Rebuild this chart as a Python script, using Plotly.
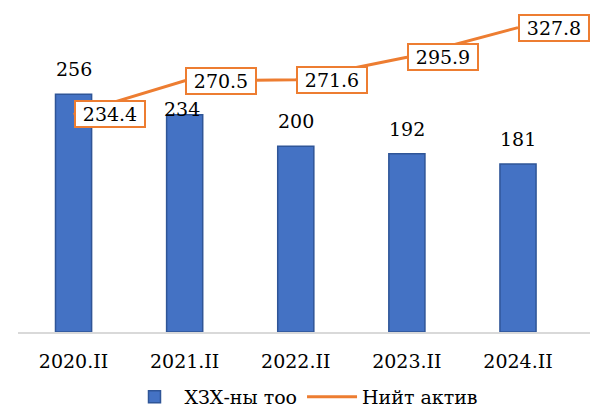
import plotly.graph_objects as go

categories = ["2020.II", "2021.II", "2022.II", "2023.II", "2024.II"]
bar_values = [256, 234, 200, 192, 181]
line_values = [234.4, 270.5, 271.6, 295.9, 327.8]
bar_name = "ХЗХ-ны тоо"
line_name = "Нийт актив"

FONT = "DejaVu Serif"
FS = 19
BLUE = "#4472C4"
BLUE_EDGE = "#2F5597"
ORANGE = "#ED7D31"

fig = go.Figure()
fig.add_trace(go.Bar(
    x=categories, y=bar_values, name=bar_name,
    marker=dict(color=BLUE, line=dict(color=BLUE_EDGE, width=1.5)),
))
fig.add_trace(go.Scatter(
    x=categories, y=line_values, name=line_name, mode="lines",
    line=dict(color=ORANGE, width=3),
))

annotations = []
# bar value labels (the 2021 label sits lower in the original)
for i, (c, v) in enumerate(zip(categories, bar_values)):
    ys, xs = 12, 0
    if i == 1:
        ys, xs = -7, -3
    annotations.append(dict(
        x=c, y=v, text=str(v), showarrow=False, xanchor="center", yanchor="bottom",
        yshift=ys, xshift=xs, font=dict(family=FONT, size=FS, color="black"),
    ))
# line value labels in orange boxes
for c, v in zip(categories, line_values):
    annotations.append(dict(
        x=c, y=v, text=f"{v:.1f}", showarrow=False, xanchor="left", yanchor="middle",
        font=dict(family=FONT, size=FS, color="black"),
        width=64, height=20, align="center", valign="middle",
        bgcolor="white", bordercolor=ORANGE, borderwidth=2, borderpad=2,
    ))

fig.update_layout(
    width=612, height=408,
    margin=dict(l=18, r=22, t=7, b=76, autoexpand=False),
    paper_bgcolor="white", plot_bgcolor="white",
    bargap=0.675,
    font=dict(family=FONT, size=FS, color="black"),
    showlegend=True,
    legend=dict(orientation="h", x=0.5, xanchor="center", y=-0.2, yanchor="middle",
                bgcolor="rgba(0,0,0,0)",
                font=dict(family=FONT, size=FS, color="black"),
                itemwidth=50, tracegroupgap=0),
    annotations=annotations,
    xaxis=dict(showgrid=False, showline=True, linecolor="#D9D9D9", linewidth=1.5,
               ticks="outside", ticklen=11, tickcolor="rgba(0,0,0,0)", automargin=False,
               tickfont=dict(family=FONT, size=FS, color="black")),
    yaxis=dict(range=[0, 350], visible=False, showgrid=False, zeroline=False),
)

fig.write_html("out.html", config={"displayModeBar": False},
               post_script="document.body.style.margin='0px';")
